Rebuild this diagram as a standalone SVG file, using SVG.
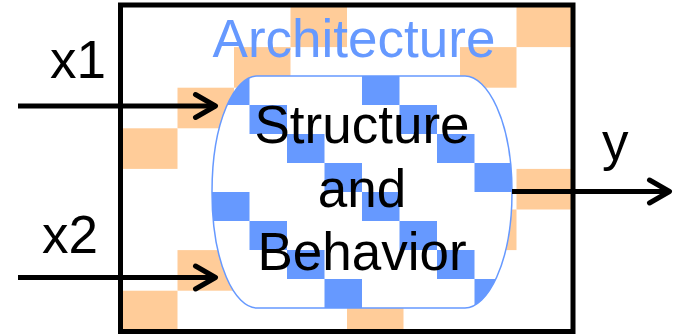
<svg xmlns="http://www.w3.org/2000/svg" width="679" height="334" viewBox="0 0 679 334">
  <style>
    .org { fill: #FFCC99; }
    .blu { fill: #6699FF; }
    .lbl { font-family: "Liberation Sans", Arial, sans-serif; font-size: 53px; fill: #000; }
    .arch { font-family: "Liberation Sans", Arial, sans-serif; font-size: 53px; fill: #6699FF; }
    .wire { stroke: #000; stroke-width: 5; fill: none; }
  </style>
  <defs>
    <marker id="chev" markerUnits="userSpaceOnUse" viewBox="-26 -16 30 32" markerWidth="30" markerHeight="32" refX="0" refY="0" orient="auto">
      <path d="M-20,-11.5 L0,0 L-20,11.5" fill="none" stroke="#000" stroke-width="5" stroke-linecap="round" stroke-linejoin="round"/>
    </marker>
    <clipPath id="barrelClip">
      <path d="M257,76 H465 C487,76 512,120 512,192 C512,264 487,308 465,308 H257 C235,308 212,264 212,192 C212,120 235,76 257,76 Z"/>
    </clipPath>
  </defs>

  <g id="architecture">
    <g id="architecture-pattern">
      <rect class="org" x="290.5" y="6.5" width="56.5" height="40.6"/>
      <rect class="org" x="516.5" y="6.5" width="56.5" height="40.6"/>
      <rect class="org" x="234" y="47.1" width="56.5" height="40.6"/>
      <rect class="org" x="460" y="47.1" width="56.5" height="40.6"/>
      <rect class="org" x="177.5" y="87.7" width="56.5" height="40.6"/>
      <rect class="org" x="403.5" y="87.7" width="56.5" height="40.6"/>
      <rect class="org" x="121" y="128.3" width="56.5" height="40.6"/>
      <rect class="org" x="347" y="128.3" width="56.5" height="40.6"/>
      <rect class="org" x="290.5" y="168.9" width="56.5" height="40.6"/>
      <rect class="org" x="516.5" y="168.9" width="56.5" height="40.6"/>
      <rect class="org" x="234" y="209.5" width="56.5" height="40.6"/>
      <rect class="org" x="460" y="209.5" width="56.5" height="40.6"/>
      <rect class="org" x="177.5" y="250.1" width="56.5" height="40.6"/>
      <rect class="org" x="403.5" y="250.1" width="56.5" height="40.6"/>
      <rect class="org" x="121" y="290.7" width="56.5" height="40.8"/>
      <rect class="org" x="347" y="290.7" width="56.5" height="40.8"/>
    </g>
    <rect x="120.5" y="5" width="452.5" height="326.5" fill="none" stroke="#000" stroke-width="5"/>
    <text class="arch" x="354" y="57" text-anchor="middle">Architecture</text>
  </g>

  <g id="structure-behavior">
    <path d="M257,76 H465 C487,76 512,120 512,192 C512,264 487,308 465,308 H257 C235,308 212,264 212,192 C212,120 235,76 257,76 Z" fill="#fff"/>
    <g clip-path="url(#barrelClip)">
      <rect class="blu" x="212" y="76" width="37.5" height="29"/>
      <rect class="blu" x="362" y="76" width="37.5" height="29"/>
      <rect class="blu" x="249.5" y="105" width="37.5" height="29"/>
      <rect class="blu" x="399.5" y="105" width="37.5" height="29"/>
      <rect class="blu" x="287" y="134" width="37.5" height="29"/>
      <rect class="blu" x="437" y="134" width="37.5" height="29"/>
      <rect class="blu" x="324.5" y="163" width="37.5" height="29"/>
      <rect class="blu" x="474.5" y="163" width="37.5" height="29"/>
      <rect class="blu" x="212" y="192" width="37.5" height="29"/>
      <rect class="blu" x="362" y="192" width="37.5" height="29"/>
      <rect class="blu" x="249.5" y="221" width="37.5" height="29"/>
      <rect class="blu" x="399.5" y="221" width="37.5" height="29"/>
      <rect class="blu" x="287" y="250" width="37.5" height="29"/>
      <rect class="blu" x="437" y="250" width="37.5" height="29"/>
      <rect class="blu" x="324.5" y="279" width="37.5" height="29"/>
      <rect class="blu" x="474.5" y="279" width="37.5" height="29"/>
    </g>
    <path d="M257,76 H465 C487,76 512,120 512,192 C512,264 487,308 465,308 H257 C235,308 212,264 212,192 C212,120 235,76 257,76 Z" fill="none" stroke="#6699FF" stroke-width="1.5"/>
    <text class="lbl" x="362" y="143" text-anchor="middle">Structure</text>
    <text class="lbl" x="362" y="206.5" text-anchor="middle">and</text>
    <text class="lbl" x="362" y="270" text-anchor="middle">Behavior</text>
  </g>

  <g id="connectors">
    <line class="wire" x1="18" y1="106" x2="215.5" y2="106" marker-end="url(#chev)"/>
    <line class="wire" x1="18" y1="277.5" x2="215.5" y2="277.5" marker-end="url(#chev)"/>
    <line class="wire" x1="512" y1="191.5" x2="669.5" y2="191.5" marker-end="url(#chev)"/>
  </g>

  <g id="port-labels">
    <text class="lbl" x="50" y="78">x1</text>
    <text class="lbl" x="42" y="253">x2</text>
    <text class="lbl" x="602" y="160">y</text>
  </g>
</svg>
